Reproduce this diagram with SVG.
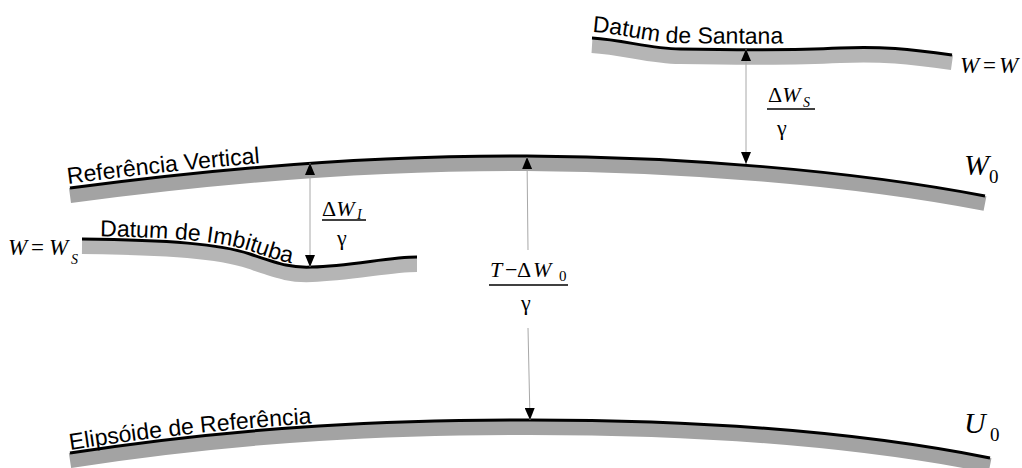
<svg xmlns="http://www.w3.org/2000/svg" xmlns:xlink="http://www.w3.org/1999/xlink" width="1022" height="468" viewBox="0 0 1022 468">
<style>
.band{fill:none;stroke:#a3a3a3;stroke-width:15;stroke-linecap:butt}
.band2{fill:none;stroke:#b5b5b5;stroke-width:15;stroke-linecap:butt}
.surf{fill:none;stroke:#000;stroke-width:3;stroke-linecap:butt}
.lbl{font-family:"Liberation Sans",Arial,sans-serif;font-size:23px;fill:#000}
.m{font-family:"Liberation Serif","Times New Roman",serif;fill:#000}
.it{font-style:italic}
.conn{stroke:#a8a8a8;stroke-width:1;fill:none}
.frac{stroke:#000;stroke-width:1.5}
</style>
<defs>
<marker id="ah" viewBox="0 0 12 10" refX="12" refY="5" markerWidth="12" markerHeight="10" markerUnits="userSpaceOnUse" orient="auto-start-reverse">
<path d="M0,0 L12,5 L0,10 z" fill="#000"/>
</marker>
<path id="pSan" d="M592,38 C625,40 650,49 680,49 C740,50 800,50 840,48 C880,46 910,49 952,55"/>
<path id="pRef" d="M70,188 C220,168 380,155 527,156 C680,157 850,170 985,196"/>
<path id="pImb" d="M82,239 C170,240 220,244 250,254 S290,268 312,267 C350,266 390,257 417,257"/>
<path id="pEli" d="M70,453 C250,425 400,420 530,420 C690,420 850,430 990,458"/>
<path id="tSan" d="M592,32 C625,34 650,43 680,43 C740,44 800,44 840,42 C880,40 910,43 952,49"/>
<path id="tRef" d="M68,184 C220,164 380,151 527,152 C680,153 850,166 985,192"/>
<path id="tImb" d="M82,236 C170,237 220,241 250,251 S290,265 312,264 C350,263 390,254 417,254"/>
<path id="tEli" d="M70,450 C250,422 400,417 530,417 C690,417 850,427 990,455"/>
</defs>
<rect x="0" y="0" width="1022" height="468" fill="#ffffff"/>

<g id="datum-santana">
<use xlink:href="#pSan" href="#pSan" class="band2" transform="translate(0,7.5)"/>
<use xlink:href="#pSan" href="#pSan" class="surf"/>
<text class="lbl"><textPath xlink:href="#tSan" href="#tSan">Datum de Santana</textPath></text>
<text class="m" font-size="23" y="73"><tspan x="960" class="it">W</tspan><tspan x="983">=</tspan><tspan x="999" class="it">W</tspan></text>
</g>

<g id="referencia-vertical">
<use xlink:href="#pRef" href="#pRef" class="band" transform="translate(0,7.5)"/>
<use xlink:href="#pRef" href="#pRef" class="surf"/>
<text class="lbl"><textPath xlink:href="#tRef" href="#tRef">Referência Vertical</textPath></text>
<text class="m it" font-size="30" x="964" y="175">W</text>
<text class="m" font-size="19" x="989" y="183">0</text>
</g>

<g id="datum-imbituba">
<use xlink:href="#pImb" href="#pImb" class="band2" transform="translate(0,7.5)"/>
<use xlink:href="#pImb" href="#pImb" class="surf"/>
<text class="lbl"><textPath xlink:href="#tImb" href="#tImb" startOffset="18">Datum de Imbituba</textPath></text>
<text class="m" font-size="23" y="255"><tspan x="8" class="it">W</tspan><tspan x="31">=</tspan><tspan x="49" class="it">W</tspan></text>
<text class="m it" font-size="14" x="71" y="264">S</text>
</g>

<g id="elipsoide">
<use xlink:href="#pEli" href="#pEli" class="band" transform="translate(0,7.5)"/>
<use xlink:href="#pEli" href="#pEli" class="surf"/>
<text class="lbl"><textPath xlink:href="#tEli" href="#tEli">Elipsóide de Referência</textPath></text>
<text class="m it" font-size="30" x="964" y="433">U</text>
<text class="m" font-size="19" x="990" y="441">0</text>
</g>

<g id="connectors">
<line class="conn" x1="746" y1="49" x2="746" y2="164" marker-start="url(#ah)" marker-end="url(#ah)"/>
<line class="conn" x1="310" y1="163" x2="310" y2="267" marker-start="url(#ah)" marker-end="url(#ah)"/>
<line class="conn" x1="528" y1="250" x2="527" y2="157" marker-end="url(#ah)"/>
<line class="conn" x1="528" y1="328" x2="530" y2="420" marker-end="url(#ah)"/>
</g>

<g id="label-dws">
<text class="m" font-size="22" y="102"><tspan x="768">Δ</tspan><tspan class="it">W</tspan></text>
<text class="m it" font-size="14" x="803" y="107">S</text>
<line class="frac" x1="767" y1="109" x2="815" y2="109"/>
<text class="m" font-size="22" x="777" y="135">γ</text>
</g>

<g id="label-dwi">
<text class="m" font-size="22" y="216"><tspan x="322">Δ</tspan><tspan class="it">W</tspan></text>
<text class="m it" font-size="14" x="357" y="219">I</text>
<line class="frac" x1="322" y1="220" x2="366" y2="220"/>
<text class="m" font-size="22" x="337" y="245">γ</text>
</g>

<g id="label-t">
<text class="m" font-size="22" y="277"><tspan x="490" class="it">T</tspan><tspan x="505">−</tspan><tspan x="517">Δ</tspan><tspan x="533" class="it">W</tspan></text>
<text class="m" font-size="15" x="559" y="281">0</text>
<line class="frac" x1="489" y1="285" x2="568" y2="285"/>
<text class="m" font-size="22" x="521" y="310">γ</text>
</g>
</svg>
